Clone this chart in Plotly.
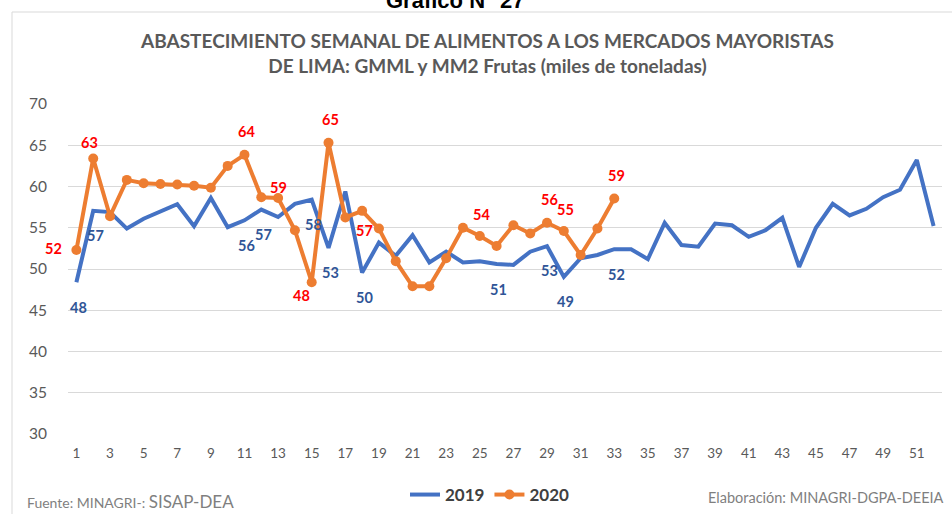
import plotly.graph_objects as go

weeks_2019 = list(range(1, 53))
vals_2019 = [48.4, 57.06, 56.9, 54.9, 56.1, 57.0, 57.86, 55.2, 58.6, 55.07,
             55.9, 57.2, 56.3, 57.9, 58.4, 52.56, 59.4, 49.57, 53.2, 51.6,
             54.1, 50.8, 52.1, 50.8, 50.95, 50.6, 50.5, 52.1, 52.77, 49.05,
             51.3, 51.7, 52.4, 52.4, 51.2, 55.6, 52.9, 52.7, 55.5, 55.3,
             53.9, 54.7, 56.2, 50.25, 55.0, 57.9, 56.5, 57.3, 58.7, 59.6,
             63.2, 55.2]

weeks_2020 = list(range(1, 34))
vals_2020 = [52.3, 63.4, 56.4, 60.8, 60.4, 60.3, 60.25, 60.1, 59.85, 62.5,
             63.85, 58.7, 58.6, 54.7, 48.4, 65.3, 56.25, 57.05, 54.9, 50.95,
             47.9, 47.9, 51.3, 55.0, 54.0, 52.8, 55.3, 54.3, 55.6, 54.6,
             51.7, 54.9, 58.55]

x_ticks = list(range(1, 52, 2))
y_ticks = list(range(30, 71, 5))

# weeks with data labels and pixel offsets (xshift, yshift)
labels_2019 = [(1, 2, -25), (2, 2, -25), (11, 2, -25), (12, 2, -25), (15, 2, -25),
               (16, 2, -25), (18, 2, -25), (26, 2, -25), (29, 2, -24), (30, 2, -25),
               (33, 2, -25)]
labels_2020 = [(1, -23, 2), (2, -4, 16), (11, 2, 23), (13, 0, 11), (15, -10, -13),
               (16, 2, 23), (18, 2, -20), (25, 2, 22), (29, 2, 23), (30, 2, 22),
               (33, 2, 23)]

BLUE = "#4472C4"
ORANGE = "#ED7D31"
FONT = "Lato"

fig = go.Figure()
fig.add_trace(go.Scatter(x=weeks_2019, y=vals_2019, mode="lines", name="<b>2019</b>",
                         line=dict(color=BLUE, width=4)))
fig.add_trace(go.Scatter(x=weeks_2020, y=vals_2020, mode="lines+markers", name="<b>2020</b>",
                         line=dict(color=ORANGE, width=4),
                         marker=dict(color=ORANGE, size=10)))

ann = []
for w, dx, dy in labels_2019:
    v = vals_2019[w - 1]
    ann.append(dict(x=w, y=v, xref="x", yref="y", text=f"<b>{round(v)}</b>",
                    showarrow=False, xshift=dx, yshift=dy,
                    font=dict(family=FONT, size=14.5, color="#2F5597")))
for w, dx, dy in labels_2020:
    v = vals_2020[w - 1]
    ann.append(dict(x=w, y=v, xref="x", yref="y", text=f"<b>{round(v)}</b>",
                    showarrow=False, xshift=dx, yshift=dy,
                    font=dict(family=FONT, size=14.5, color="#FF0000")))

# layout geometry: plot area x 68..942, y 104..434
def px(xp):
    return (xp - 68) / 874
def py(yp):
    return (434 - yp) / 330

ann.append(dict(x=px(487), y=py(53), xref="paper", yref="paper",
                text="<b>ABASTECIMIENTO SEMANAL DE ALIMENTOS A LOS MERCADOS MAYORISTAS<br>DE LIMA: GMML y MM2 Frutas (miles de toneladas)</b>",
                showarrow=False, xanchor="center", yanchor="middle",
                font=dict(family=FONT, size=19, color="#595959")))
ann.append(dict(x=px(455), y=py(15), xref="paper", yref="paper",
                text="<b>Gráfico N° 27</b>", showarrow=False,
                xanchor="center", yanchor="bottom",
                font=dict(family="Liberation Sans", size=22, color="#000000")))
ann.append(dict(x=px(25), y=py(501), xref="paper", yref="paper",
                text="Fuente: MINAGRI-: <span style='font-size:17px'>SISAP-DEA</span>",
                showarrow=False, xanchor="left", yanchor="middle",
                font=dict(family=FONT, size=14, color="#7F7F7F")))
ann.append(dict(x=px(946), y=py(497), xref="paper", yref="paper",
                text="Elaboración: MINAGRI-DGPA-DEEIA",
                showarrow=False, xanchor="right", yanchor="middle",
                font=dict(family=FONT, size=14.5, color="#7F7F7F")))

fig.update_layout(
    width=952, height=514,
    margin=dict(l=68, r=10, t=104, b=80, autoexpand=False),
    paper_bgcolor="white", plot_bgcolor="white",
    showlegend=True,
    legend=dict(orientation="h", x=px(490), y=py(495), xanchor="center", yanchor="middle",
                font=dict(family=FONT, size=17, color="#404040"),
                itemwidth=30, bgcolor="rgba(0,0,0,0)"),
    annotations=ann,
    shapes=[dict(type="rect", xref="paper", yref="paper",
                 x0=px(12), x1=px(960), y0=py(530), y1=py(12),
                 line=dict(color="#D9D9D9", width=1), layer="below")],
)
fig.update_xaxes(range=[0.5, 52.5], tickvals=x_ticks, ticktext=[str(t) for t in x_ticks],
                 showgrid=False, zeroline=False, showline=False, automargin=False,
                 ticks="", ticklabelstandoff=9,
                 tickfont=dict(family=FONT, size=13.5, color="#595959"))
fig.update_yaxes(range=[30, 70], tickvals=y_ticks, showgrid=True, gridcolor="#D9D9D9",
                 gridwidth=1, zeroline=False, showline=False, ticks="", automargin=False,
                 ticklabelstandoff=20,
                 tickfont=dict(family=FONT, size=15.5, color="#595959"))

fig.write_html("out.html", config={"displayModeBar": False},
               post_script="document.body.style.margin='0';document.body.style.overflow='hidden';")
